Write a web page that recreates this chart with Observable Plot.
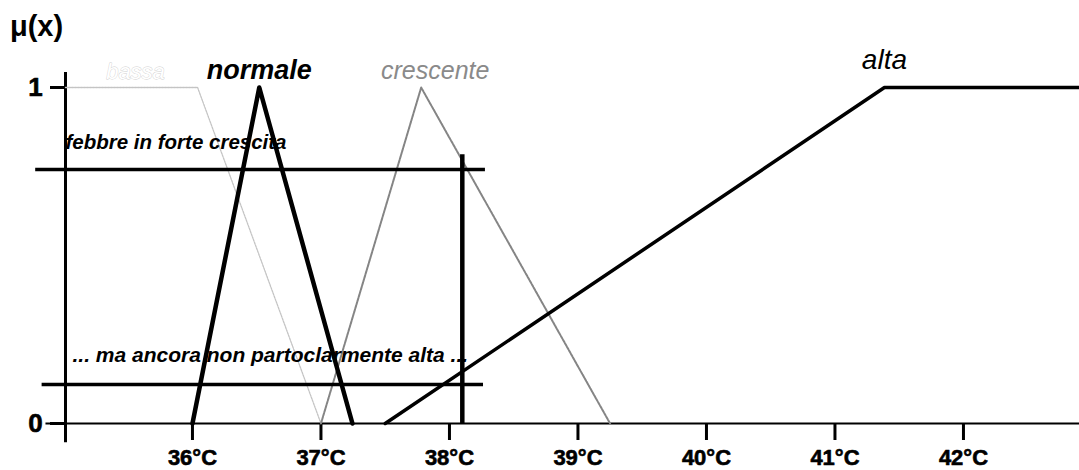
<!DOCTYPE html>
<html>
<head>
<meta charset="utf-8">
<script src="https://cdn.jsdelivr.net/npm/d3@7"></script>
<script src="https://cdn.jsdelivr.net/npm/@observablehq/plot@0.6"></script>
<style>
  html, body { margin: 0; padding: 0; background: #fff; }
  svg { display: block; }
</style>
</head>
<body>
<div id="chart"></div>
<script>
// ---- data (temperature °C vs membership μ) ----
const degreeTicks = [36, 37, 38, 39, 40, 41, 42];
const muTicks = [0, 1];
const xExtent = [35.012, 42.903];

const bassaX = [35.012, 36.04, 37.0];
const bassaMu = [1, 1, 0];
const normaleX = [36.0, 36.52, 37.245];
const normaleMu = [0, 1, 0];
const crescenteX = [37.0, 37.78, 39.25];
const crescenteMu = [0, 1, 0];
const altaX = [37.5, 41.385, 42.903];
const altaMu = [0, 1, 1];

// threshold lines
const forteLevel = 0.756;           // "febbre in forte crescita"
const forteSpan = [34.78, 38.28];
const ancoraLevel = 0.116;          // "... ma ancora non partoclarmente alta ..."
const ancoraSpan = [34.83, 38.265];
const cutTemp = 38.10;              // vertical line
const cutMu = 0.80;

const yAxisSpan = [-0.057, 1.045];
const xAxisSpan = [34.86, 42.903];

const setLabels = ["bassa", "normale", "crescente", "alta"];
const noteLabels = ["febbre in forte crescita", "... ma ancora non partoclarmente alta ..."];

const pts = (xs, ys) => xs.map((x, i) => ({x, y: ys[i]}));

const font = "'Liberation Sans', Arial, Helvetica, sans-serif";

const chart = Plot.plot({
  width: 1079,
  height: 470,
  marginLeft: 65,
  marginRight: 0,
  marginTop: 87,
  marginBottom: 47,
  x: {domain: xExtent},
  y: {domain: [0, 1]},
  style: {background: "white", fontFamily: font, overflow: "visible", color: "black"},
  marks: [
    // axes lines and ticks
    Plot.ruleX([xExtent[0]], {y1: yAxisSpan[0], y2: yAxisSpan[1], stroke: "black", strokeWidth: 3}),
    Plot.ruleY([0], {x1: xAxisSpan[0], x2: xAxisSpan[1], stroke: "black", strokeWidth: 2}),
    Plot.axisX({ticks: degreeTicks, tickFormat: () => "", tickSize: 17, strokeWidth: 3, label: null}),
    Plot.axisY({ticks: muTicks, tickFormat: () => "", tickSize: 15, strokeWidth: 3, label: null}),
    Plot.text(degreeTicks, {x: d => d, y: 0, dy: 34, text: d => `${d}°C`, fontSize: 22, fontWeight: "bold",
      fill: "black", stroke: "black", strokeWidth: 0.6}),
    Plot.text(muTicks, {x: xExtent[0], y: d => d, dx: -30, text: d => `${d}`, fontSize: 26, fontWeight: "bold",
      fill: "black", stroke: "black", strokeWidth: 0.6}),
    Plot.text(["μ(x)"], {x: xExtent[0], y: 1, dx: -29, dy: -61, fontSize: 29, fontWeight: "bold", fill: "black"}),

    // membership functions
    Plot.line(pts(bassaX, bassaMu), {x: "x", y: "y", stroke: "#c4c4c4", strokeWidth: 1.3, strokeDasharray: "2,1"}),
    Plot.line(pts(crescenteX, crescenteMu), {x: "x", y: "y", stroke: "#858585", strokeWidth: 2, strokeDasharray: "3,1"}),
    Plot.line(pts(normaleX, normaleMu), {x: "x", y: "y", stroke: "black", strokeWidth: 4.5}),
    Plot.line(pts(altaX, altaMu), {x: "x", y: "y", stroke: "black", strokeWidth: 3.5}),

    // threshold lines
    Plot.ruleY([forteLevel], {x1: forteSpan[0], x2: forteSpan[1], stroke: "black", strokeWidth: 3.5}),
    Plot.ruleY([ancoraLevel], {x1: ancoraSpan[0], x2: ancoraSpan[1], stroke: "black", strokeWidth: 3.5}),
    Plot.ruleX([cutTemp], {y1: 0, y2: cutMu, stroke: "black", strokeWidth: 4.5}),

    // set labels
    Plot.text([setLabels[0]], {x: bassaX[0], y: 1, dx: 70, dy: -16, fontSize: 22, fontStyle: "italic",
      fill: "white", stroke: "#cfcfcf", strokeWidth: 0.8, letterSpacing: 3}),
    Plot.text([setLabels[1]], {x: normaleX[1], y: 1, dy: -17, fontSize: 27, fontStyle: "italic", fontWeight: "bold", fill: "black"}),
    Plot.text([setLabels[2]], {x: crescenteX[1], y: 1, dx: 14, dy: -17, fontSize: 25, fontStyle: "italic", fill: "#8a8a8a", letterSpacing: 4.5}),
    Plot.text([setLabels[3]], {x: altaX[1], y: 1, dy: -27, fontSize: 28, fontStyle: "italic", fill: "black"}),

    // notes
    Plot.text([noteLabels[0]], {x: xExtent[0], y: forteLevel, dy: -27, textAnchor: "start", fontSize: 20.5,
      fontStyle: "italic", fontWeight: "bold", fill: "black"}),
    Plot.text([noteLabels[1]], {x: xExtent[0], y: ancoraLevel, dx: 7, dy: -29, textAnchor: "start", fontSize: 21,
      fontStyle: "italic", fontWeight: "bold", fill: "black"})
  ]
});
document.getElementById("chart").appendChild(chart);
</script>
</body>
</html>
